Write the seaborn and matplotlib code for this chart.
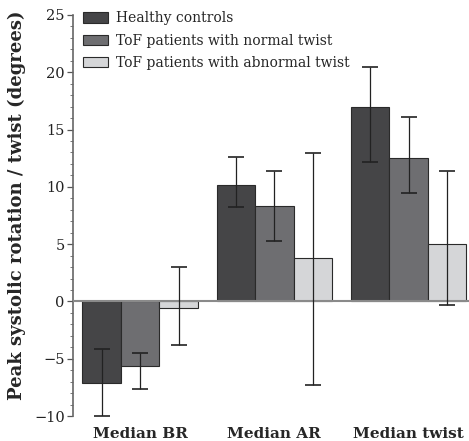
import matplotlib
matplotlib.use("Agg")
import matplotlib.pyplot as plt
import seaborn as sns
import pandas as pd
import numpy as np
from matplotlib.ticker import MultipleLocator

categories = ["Median BR", "Median AR", "Median twist"]
groups = ["Healthy controls", "ToF patients with normal twist", "ToF patients with abnormal twist"]
healthy = [-7.1, 10.15, 16.95]
normal = [-5.6, 8.3, 12.5]
abnormal = [-0.6, 3.8, 5.0]
healthy_lo = [-10.0, 8.2, 12.2]
healthy_hi = [-4.15, 12.6, 20.45]
normal_lo = [-7.6, 5.25, 9.5]
normal_hi = [-4.5, 11.4, 16.1]
abnormal_lo = [-3.8, -7.3, -0.35]
abnormal_hi = [3.0, 12.95, 11.4]

colors = ["#454547", "#6d6e71", "#d5d6d8"]

vals = [healthy, normal, abnormal]
los = [healthy_lo, normal_lo, abnormal_lo]
his = [healthy_hi, normal_hi, abnormal_hi]

rows = []
for g, v in zip(groups, vals):
    for c, x in zip(categories, v):
        rows.append({"cat": c, "group": g, "value": x})
df = pd.DataFrame(rows)

sns.set_style("ticks")
plt.rcParams["font.family"] = ["DejaVu Serif"]

fig = plt.figure(figsize=(4.69, 4.41), dpi=100)
ax = fig.add_axes([73/469, 25/441, 1 - 73/469, 401/441])

sns.barplot(data=df, x="cat", y="value", hue="group", order=categories,
            hue_order=groups, palette=colors, width=0.86, errorbar=None,
            edgecolor="#2a2a2a", linewidth=0.8, ax=ax, zorder=2)

# error bars at bar centers
bar_containers = list(ax.containers)
for gi, cont in enumerate(bar_containers):
    for ci, patch in enumerate(cont.patches):
        xc = patch.get_x() + patch.get_width() / 2
        v = vals[gi][ci]
        ax.errorbar([xc], [v], yerr=[[v - los[gi][ci]], [his[gi][ci] - v]],
                    fmt="none", ecolor="#222222", elinewidth=0.9, capsize=5.5,
                    capthick=1.2, zorder=4)

ax.axhline(0, color="#8a8a8a", lw=1.5, zorder=3)

ax.set_ylim(-10, 25)
ax.set_xlim(-0.5, 2.45)
ax.yaxis.set_major_locator(MultipleLocator(5))
ax.yaxis.set_minor_locator(MultipleLocator(1))
ax.tick_params(axis="y", which="major", length=4, width=0.9, colors="#555555",
               labelcolor="#222222", labelsize=10.5, pad=2)
ax.tick_params(axis="y", which="minor", length=2.5, width=0.7, colors="#777777")
ax.tick_params(axis="x", length=0, labelsize=11, pad=8)
for lab in ax.get_xticklabels():
    lab.set_fontweight("bold")
ax.set_xlabel("")
ax.set_ylabel("Peak systolic rotation / twist (degrees)", fontsize=13,
              fontweight="bold")
ax.yaxis.set_label_coords(-0.118, 0.525)
for s in ["top", "right", "bottom"]:
    ax.spines[s].set_visible(False)
ax.spines["left"].set_color("#666666")
ax.spines["left"].set_linewidth(1.2)

leg = ax.legend(loc="upper left", bbox_to_anchor=(0.005, 1.03), frameon=False,
                fontsize=10, handlelength=1.75, handleheight=0.75,
                handletextpad=0.6, labelspacing=0.6, borderaxespad=0.2)

fig.savefig("out.png", dpi=100)
